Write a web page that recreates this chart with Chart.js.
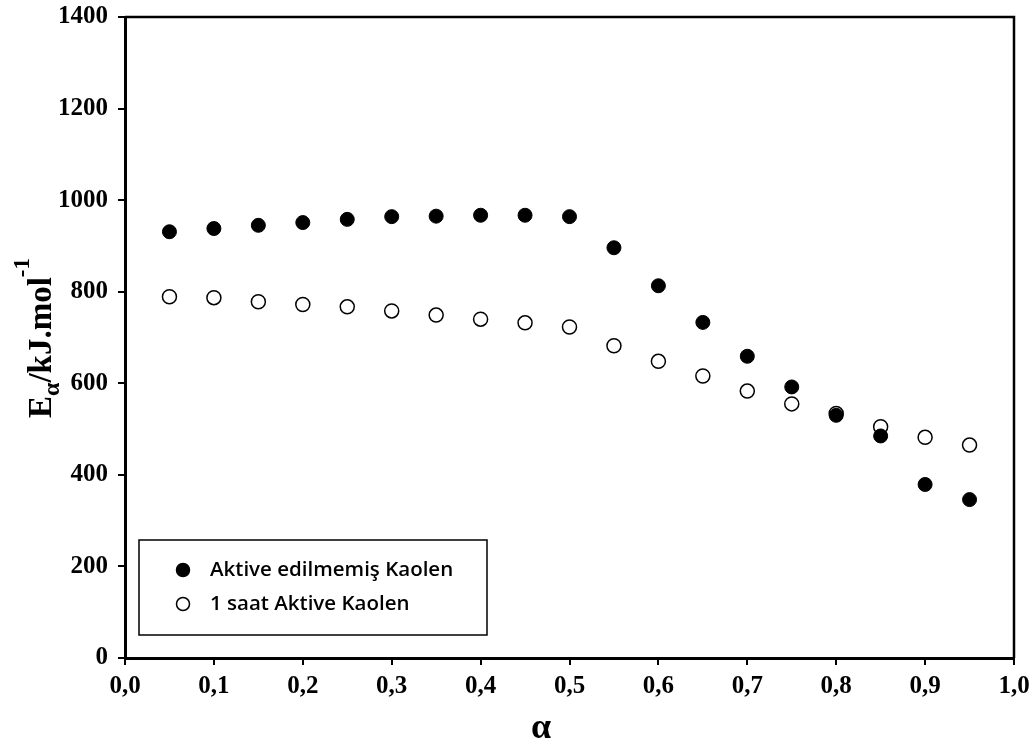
<!DOCTYPE html>
<html lang="tr">
<head>
    <meta charset="UTF-8">
    <title>Ea - alfa</title>
    <style>
        body {
            margin: 0;
            padding: 0;
            background: white;
        }
        #chartBox {
            width: 1035px;
            height: 751px;
        }
    </style>
</head>
<body>
    <div id="chartBox">
        <canvas id="eaChart" width="1035" height="751"></canvas>
    </div>

    <script src="https://cdn.jsdelivr.net/npm/chart.js"></script>
    <script>
        // Veriler
        const alphaValues = [0.05, 0.10, 0.15, 0.20, 0.25, 0.30, 0.35, 0.40, 0.45, 0.50,
                             0.55, 0.60, 0.65, 0.70, 0.75, 0.80, 0.85, 0.90, 0.95];
        const unactivated = [931, 938, 945, 951, 958, 964, 965, 967, 967, 964,
                             896, 813, 733, 659, 592, 530, 485, 379, 346];
        const activated1h = [789, 787, 778, 772, 767, 758, 749, 740, 732, 723,
                             682, 648, 616, 583, 555, 534, 505, 482, 465];
        const seriesNames = ["Aktive edilmemiş Kaolen", "1 saat Aktive Kaolen"];
        const yTicks = [0, 200, 400, 600, 800, 1000, 1200, 1400];

        const tickFont = { family: "'Liberation Serif', 'Times New Roman', serif", size: 25, weight: "bold" };

        function toPoints(ys) {
            return alphaValues.map((a, i) => ({ x: a, y: ys[i] }));
        }

        // Kutu, eksen basliklari ve lejand
        const extras = {
            id: "extras",
            afterDraw(chart) {
                const ctx = chart.ctx;
                const area = chart.chartArea;
                ctx.save();

                // ust ve sag cerceve
                ctx.strokeStyle = "black";
                ctx.lineWidth = 2.5;
                ctx.beginPath();
                ctx.moveTo(area.left, area.top);
                ctx.lineTo(area.right, area.top);
                ctx.lineTo(area.right, area.bottom);
                ctx.stroke();

                // x basligi
                ctx.fillStyle = "black";
                ctx.font = "bold 36px 'Liberation Serif', serif";
                ctx.textAlign = "center";
                ctx.textBaseline = "alphabetic";
                ctx.fillText("α", 541, 738);

                // y basligi: E_alpha / kJ.mol^-1
                ctx.translate(51, 418);
                ctx.rotate(-Math.PI / 2);
                ctx.textAlign = "left";
                let x = 0;
                ctx.font = "bold 33px 'Liberation Serif', serif";
                ctx.fillText("E", x, 0);
                x += ctx.measureText("E").width;
                ctx.font = "bold 24px 'Liberation Serif', serif";
                ctx.fillText("α", x, 8);
                x += ctx.measureText("α").width;
                ctx.font = "bold 33px 'Liberation Serif', serif";
                ctx.fillText("/kJ.mol", x, 0);
                x += ctx.measureText("/kJ.mol").width;
                ctx.font = "bold 23px 'Liberation Serif', serif";
                ctx.fillText("-1", x, -22);
                ctx.restore();

                // lejand kutusu
                ctx.save();
                ctx.fillStyle = "white";
                ctx.fillRect(139, 540, 348, 95);
                ctx.strokeStyle = "black";
                ctx.lineWidth = 1.5;
                ctx.strokeRect(139, 540, 348, 95);
                ctx.font = "600 20.5px 'Open Sans', sans-serif";
                ctx.textBaseline = "middle";
                chart.data.datasets.forEach((ds, i) => {
                    const cy = 570 + i * 34;
                    ctx.beginPath();
                    ctx.arc(183, cy, 6.5, 0, Math.PI * 2);
                    ctx.fillStyle = ds.pointBackgroundColor;
                    ctx.fill();
                    ctx.lineWidth = 1.5;
                    ctx.strokeStyle = "black";
                    ctx.stroke();
                    ctx.fillStyle = "#000";
                    ctx.fillText(ds.label, 210, cy);
                });
                ctx.restore();
            }
        };

        new Chart(document.getElementById("eaChart"), {
            type: "scatter",
            data: {
                datasets: [{
                    label: seriesNames[0],
                    data: toPoints(unactivated),
                    pointRadius: 7,
                    pointBackgroundColor: "black",
                    pointBorderColor: "black",
                    pointBorderWidth: 1
                }, {
                    label: seriesNames[1],
                    data: toPoints(activated1h),
                    pointRadius: 7,
                    pointBackgroundColor: "white",
                    pointBorderColor: "black",
                    pointBorderWidth: 1.5
                }]
            },
            options: {
                responsive: false,
                devicePixelRatio: 1,
                animation: false,
                layout: { padding: { left: 0, right: 21, top: 17, bottom: 0 } },
                plugins: {
                    legend: { display: false },
                    tooltip: { enabled: false }
                },
                scales: {
                    x: {
                        type: "linear",
                        min: 0,
                        max: 1,
                        border: { color: "black", width: 3 },
                        grid: { drawOnChartArea: false, color: "black", lineWidth: 2, tickLength: 7 },
                        ticks: {
                            stepSize: 0.1,
                            color: "black",
                            font: tickFont,
                            padding: 7,
                            maxRotation: 0,
                            callback: v => v.toFixed(1).replace(".", ",")
                        },
                        afterFit: s => { s.height = 93; s.paddingLeft = 0; s.paddingRight = 0; }
                    },
                    y: {
                        min: 0,
                        max: 1400,
                        border: { color: "black", width: 3 },
                        grid: { drawOnChartArea: false, color: "black", lineWidth: 2, tickLength: 7 },
                        afterBuildTicks: s => { s.ticks = yTicks.map(v => ({ value: v })); },
                        ticks: {
                            color: "black",
                            font: tickFont,
                            padding: 10,
                            callback: v => String(v)
                        },
                        afterFit: s => { s.width = 125; s.paddingTop = 0; s.paddingBottom = 0; }
                    }
                }
            },
            plugins: [extras]
        });
    </script>
</body>
</html>
